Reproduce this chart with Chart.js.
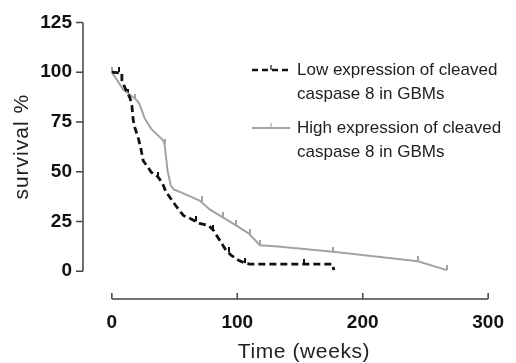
<!DOCTYPE html>
<html>
<head>
<meta charset="utf-8">
<script src="https://cdn.jsdelivr.net/npm/chart.js@4/dist/chart.umd.min.js"></script>
<style>
html,body{margin:0;padding:0;background:#fff;}
#wrap{width:516px;height:363px;}
</style>
</head>
<body>
<div id="wrap"><canvas id="c" width="516" height="363"></canvas></div>
<script>
// ---- data ----
const lowWeeks = [0, 8, 8, 10.6, 14.5, 16, 17, 18.4, 21, 23, 25, 29, 31.4, 36.6, 40.5, 43, 48, 52, 57, 64, 70, 77, 81, 86, 91, 95, 101, 106, 110, 153, 176, 177];
const lowSurvival = [100, 99.5, 96, 92, 87, 83, 76, 72, 67, 62, 55.5, 52, 49.7, 47.5, 44, 40, 35.5, 32, 28, 26, 24, 23, 20.5, 15.5, 10.5, 8, 5.5, 4, 3.5, 3.5, 3.5, 0.5];
const highWeeks = [0, 9.3, 15.8, 19.7, 22, 26, 31.4, 40.5, 42, 44.4, 47, 49.5, 54.7, 70, 78, 88.5, 99, 109, 118, 130, 176.6, 244, 267];
const highSurvival = [100, 91, 88, 86, 84, 77, 71.5, 66, 64, 50.5, 43, 41, 39.7, 35.5, 31, 27, 23, 19, 13, 12.5, 9.7, 5, 0.5];
const lowCensorWeeks = [6, 13, 37, 67, 81, 93, 106, 153];
const lowCensorSurvival = [100, 89, 47.5, 25, 20.5, 9.5, 4, 3.5];
const highCensorWeeks = [0, 18.6, 42, 71.6, 88.5, 99, 110, 118, 176.6, 244, 267];
const highCensorSurvival = [100, 86.5, 64, 35, 27, 23, 18.5, 13, 9.7, 5, 0.5];
const yTicks = [0, 25, 50, 75, 100, 125];
const xTicks = [0, 100, 200, 300];
const seriesLabels = [
  ["Low expression of cleaved", "caspase 8 in GBMs"],
  ["High expression of cleaved", "caspase 8 in GBMs"]
];
const xTitle = "Time (weeks)";
const yTitle = "survival %";

const BLACK = '#111111';
const GRAY = '#a3a3a3';
const AXIS = '#444444';
const FONT = '"Liberation Sans", Arial, sans-serif';

function pts(xs, ys) { return xs.map((x, i) => ({x: x, y: ys[i]})); }
function tickImg(color) {
  const c = document.createElement('canvas');
  c.width = 2; c.height = 10;
  const g = c.getContext('2d');
  g.fillStyle = color;
  g.fillRect(0, 0, 2, 5);
  return c;
}

const axesPlugin = {
  id: 'axesPlugin',
  afterDraw(chart) {
    const ctx = chart.ctx;
    const xs = chart.scales.x, ys = chart.scales.y;
    const ca = chart.chartArea;
    ctx.save();
    ctx.strokeStyle = AXIS;
    ctx.lineWidth = 1.5;
    // y axis
    const yx = ca.left;
    ctx.beginPath();
    ctx.moveTo(yx, ys.getPixelForValue(yTicks[yTicks.length - 1]));
    ctx.lineTo(yx, ys.getPixelForValue(yTicks[0]));
    yTicks.forEach(v => {
      const p = ys.getPixelForValue(v);
      ctx.moveTo(yx - 7, p); ctx.lineTo(yx, p);
    });
    ctx.stroke();
    // x axis
    const xy = ca.bottom;
    ctx.beginPath();
    ctx.moveTo(xs.getPixelForValue(xTicks[0]), xy);
    ctx.lineTo(xs.getPixelForValue(xTicks[xTicks.length - 1]), xy);
    xTicks.forEach(v => {
      const p = xs.getPixelForValue(v);
      ctx.moveTo(p, xy - 6); ctx.lineTo(p, xy);
    });
    ctx.stroke();

    // axis titles
    ctx.fillStyle = '#222';
    ctx.font = '21px ' + FONT;
    ctx.textBaseline = 'alphabetic';
    ctx.textAlign = 'center';
    try { ctx.letterSpacing = '0.6px'; } catch (e) {}
    const xMid = (xs.getPixelForValue(xTicks[0]) + xs.getPixelForValue(xTicks[xTicks.length - 1])) / 2;
    ctx.fillText(xTitle, xMid + 4, 358);
    try { ctx.letterSpacing = '1px'; } catch (e) {}
    const yMid = (ys.getPixelForValue(yTicks[0]) + ys.getPixelForValue(yTicks[yTicks.length - 1])) / 2;
    ctx.save();
    ctx.translate(28, yMid);
    ctx.rotate(-Math.PI / 2);
    ctx.fillText(yTitle, 0, 0);
    ctx.restore();
    try { ctx.letterSpacing = '0px'; } catch (e) {}

    // legend
    ctx.textAlign = 'left';
    ctx.font = '17px ' + FONT;
    ctx.fillStyle = '#222';
    ctx.textBaseline = 'middle';
    const legendRows = [70, 128];
    seriesLabels.forEach((lines, i) => {
      const y0 = legendRows[i];
      ctx.beginPath();
      if (i === 0) {
        ctx.strokeStyle = BLACK; ctx.lineWidth = 2.5; ctx.setLineDash([6, 4]);
      } else {
        ctx.strokeStyle = GRAY; ctx.lineWidth = 2; ctx.setLineDash([]);
      }
      ctx.moveTo(252, y0); ctx.lineTo(290, y0);
      ctx.stroke();
      ctx.setLineDash([]);
      ctx.lineWidth = 1.2;
      ctx.beginPath();
      ctx.moveTo(271, y0); ctx.lineTo(271, y0 - 5);
      ctx.stroke();
      lines.forEach((t, j) => ctx.fillText(t, 297, y0 + j * 24));
    });
    ctx.restore();
  }
};

new Chart(document.getElementById('c'), {
  type: 'line',
  data: {
    datasets: [
      {
        label: seriesLabels[0].join(' '),
        data: pts(lowWeeks, lowSurvival),
        borderColor: BLACK, borderWidth: 2.8, borderDash: [7, 4],
        pointRadius: 0, fill: false, tension: 0
      },
      {
        label: seriesLabels[1].join(' '),
        data: pts(highWeeks, highSurvival),
        borderColor: GRAY, borderWidth: 2,
        pointRadius: 0, fill: false, tension: 0
      },
      {
        label: 'low censored',
        data: pts(lowCensorWeeks, lowCensorSurvival),
        showLine: false, pointStyle: tickImg(BLACK), pointRadius: 5
      },
      {
        label: 'high censored',
        data: pts(highCensorWeeks, highCensorSurvival),
        showLine: false, pointStyle: tickImg(GRAY), pointRadius: 5
      }
    ]
  },
  options: {
    responsive: false,
    animation: false,
    layout: { padding: { top: 21, right: 17, left: 0, bottom: 0 } },
    plugins: { legend: { display: false }, tooltip: { enabled: false } },
    scales: {
      x: {
        type: 'linear', min: -23, max: 300,
        afterBuildTicks: s => { s.ticks = xTicks.map(v => ({value: v})); },
        afterFit: s => { s.height = 64; },
        grid: { display: false, drawTicks: false },
        border: { display: false },
        ticks: { padding: 12, color: '#111', font: { family: FONT, size: 19, weight: 'bold' }, maxRotation: 0 },
        title: { display: false }
      },
      y: {
        type: 'linear', min: -14, max: 125,
        afterBuildTicks: s => { s.ticks = yTicks.map(v => ({value: v})); },
        afterFit: s => { s.width = 83; },
        grid: { display: false, drawTicks: false },
        border: { display: false },
        ticks: { padding: 11, color: '#111', font: { family: FONT, size: 19, weight: 'bold' } },
        title: { display: false }
      }
    }
  },
  plugins: [axesPlugin]
});
</script>
</body>
</html>
